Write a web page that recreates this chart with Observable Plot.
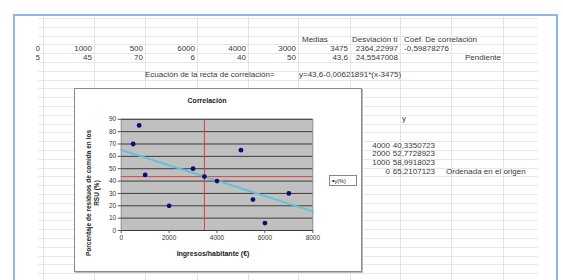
<!DOCTYPE html>
<html><head><meta charset="utf-8">
<script src="https://cdn.jsdelivr.net/npm/d3@7"></script>
<script src="https://cdn.jsdelivr.net/npm/@observablehq/plot@0.6"></script>
<style>
body{margin:0;background:#fff;}
#page{position:relative;width:563px;height:280px;overflow:hidden;background:#fff;font-family:"Liberation Sans",Arial,sans-serif;color:#383838;}
#frame{position:absolute;left:13px;top:14px;width:545px;height:300px;border:2px solid #8fb6ea;box-sizing:border-box;}
#sheet{position:absolute;left:36px;top:17px;width:502px;height:270px;overflow:hidden;}
.col{position:absolute;top:0;width:1px;height:270px;background:#e4e4e4;}
.row{position:absolute;left:2px;width:500px;height:1px;background:#e8e8e8;}
.t{position:absolute;font-size:8px;line-height:1;white-space:nowrap;transform:translateY(-50%);}
.r{transform:translate(-100%,-50%);}
#chartbox{position:absolute;left:74px;top:88px;width:288px;height:184px;background:#fff;border:1px solid #8a8a8a;box-sizing:border-box;box-shadow:1px 1px 0 #bbb;}
#chartbox svg{position:absolute;left:-1px;top:-1px;}
.ct{position:absolute;font-weight:bold;white-space:nowrap;line-height:1;color:#222;}
#legend{position:absolute;left:329px;top:175px;width:28px;height:11px;border:1px solid #888;box-sizing:border-box;background:#fff;font-size:5.5px;line-height:9px;white-space:nowrap;padding-left:2px;color:#222;}
</style></head>
<body><div id="page">
<div id="frame"></div>
<div id="sheet"></div>
<div id="chartbox"></div>
<div id="legend"></div>
</div>
<script>
// ---- data ----
const ingresos = [500, 750, 1000, 2000, 3000, 4000, 5000, 5500, 6000, 7000];
const residuos = [70, 85, 45, 20, 50, 40, 65, 25, 6, 30];
const mediaX = 3475;
const mediaY = 43.6;
const rectaX = [0, 1000, 2000, 4000, 8000];
const rectaY = [65.2107123, 58.9918023, 52.7728923, 40.3350723, 15.4594323];
const xTicks = [0, 2000, 4000, 6000, 8000];
const yTicks = [0, 10, 20, 30, 40, 50, 60, 70, 80, 90];
const fila1 = ["5500", "1000", "500", "6000", "4000", "3000", "3475", "2364,22997", "-0,59878276"];
const fila2 = ["25", "45", "70", "6", "40", "50", "43,6", "24,5547008"];
const cabecera = ["Medias", "Desviación tí", "Coef. De correlación"];
const tablaX = ["4000", "2000", "1000", "0"];
const tablaY = ["40,3350723", "52,7728923", "58,9918023", "65,2107123"];

// ---- spreadsheet ----
const sheet = document.getElementById("sheet");
const ox = 36, oy = 17;
for (let y = 18; y < 285; y += 8.8) {
  const d = document.createElement("div"); d.className = "row"; d.style.top = (Math.round(y) - oy) + "px"; sheet.appendChild(d);
}
[43, 94, 145, 197, 248, 298, 350, 400, 451, 503].forEach(x => {
  const d = document.createElement("div"); d.className = "col"; d.style.left = (x - ox) + "px"; sheet.appendChild(d);
});
function txt(s, x, y, right) {
  const d = document.createElement("div");
  d.className = "t" + (right ? " r" : "");
  d.textContent = s;
  d.style.left = (x - ox) + "px"; d.style.top = (y - oy) + "px";
  sheet.appendChild(d);
}
const rightEdges1 = [40, 92, 143, 195, 246, 296, 348, 398, 449];
fila1.forEach((s, i) => txt(s, rightEdges1[i], 48.8, true));
fila2.forEach((s, i) => txt(s, rightEdges1[i], 57.6, true));
txt(cabecera[0], 302, 40);
txt(cabecera[1], 352, 40);
txt(cabecera[2], 404, 40);
txt("Pendiente", 465, 57.6);
txt("Ecuación de la recta de correlación=", 145, 75.2);
txt("y=43,6-0,00621891*(x-3475)", 299, 75.2);
txt("y", 402, 119.2);
tablaX.forEach((s, i) => txt(s, 390, 145.6 + i * 8.8, true));
tablaY.forEach((s, i) => txt(s, 435, 145.6 + i * 8.8, true));
txt("Ordenada en el origen", 446, 145.6 + 3 * 8.8);

// ---- chart ----
const puntos = ingresos.map((x, i) => ({x, y: residuos[i]})).concat([{x: mediaX, y: mediaY}]);
const recta = rectaX.map((x, i) => ({x, y: rectaY[i]}));
const W = 288, H = 184;
const chart = Plot.plot({
  width: W, height: H,
  marginLeft: 47, marginRight: 48, marginTop: 31, marginBottom: 41,
  x: {domain: [0, 8000]},
  y: {domain: [0, 90]},
  style: {fontFamily: "'Liberation Sans', Arial, sans-serif", fontSize: "6.5px", color: "#333", background: "transparent", overflow: "visible"},
  marks: [
    Plot.frame({fill: "#c0c0c0", stroke: "#8c8c8c"}),
    Plot.gridY(yTicks, {stroke: "#3a3a3a", strokeOpacity: 1}),
    Plot.ruleX([mediaX], {stroke: "#e0403a", strokeWidth: 1}),
    Plot.ruleY([mediaY], {stroke: "#e0403a", strokeWidth: 1}),
    Plot.line(recta, {x: "x", y: "y", stroke: "#62c0d8", strokeWidth: 2}),
    Plot.dot(puntos, {x: "x", y: "y", r: 2.4, fill: "#0a0a78", stroke: "none"}),
    Plot.axisX(xTicks, {tickSize: 3, tickPadding: 2, label: null, tickFormat: d3.format("d"), stroke: "#555"}),
    Plot.axisY(yTicks, {tickSize: 3, tickPadding: 2, label: null, tickFormat: d3.format("d"), stroke: "#555"})
  ]
});
const box = document.getElementById("chartbox");
box.appendChild(chart);
function ctext(s, left, top, size, extra) {
  const d = document.createElement("div"); d.className = "ct"; d.textContent = s;
  d.style.left = left + "px"; d.style.top = top + "px"; d.style.fontSize = size + "px";
  if (extra) Object.assign(d.style, extra);
  box.appendChild(d); return d;
}
ctext("Correlación", -12, 8, 7, {width: "288px", textAlign: "center"});
ctext("Ingresos/habitante (€)", -6, 161, 7, {width: "288px", textAlign: "center"});
const yt = document.createElement("div");
yt.className = "ct";
yt.style.cssText += "font-size:6.5px;line-height:8px;text-align:center;width:150px;left:-57px;top:96px;transform:rotate(-90deg);";
yt.innerHTML = "Porcentaje de residuos de comida en los<br>RSU (%)";
box.appendChild(yt);
document.getElementById("legend").innerHTML = '<span style="color:#0a0a78;font-size:7px">•</span>y(%)';
</script>
</body></html>
